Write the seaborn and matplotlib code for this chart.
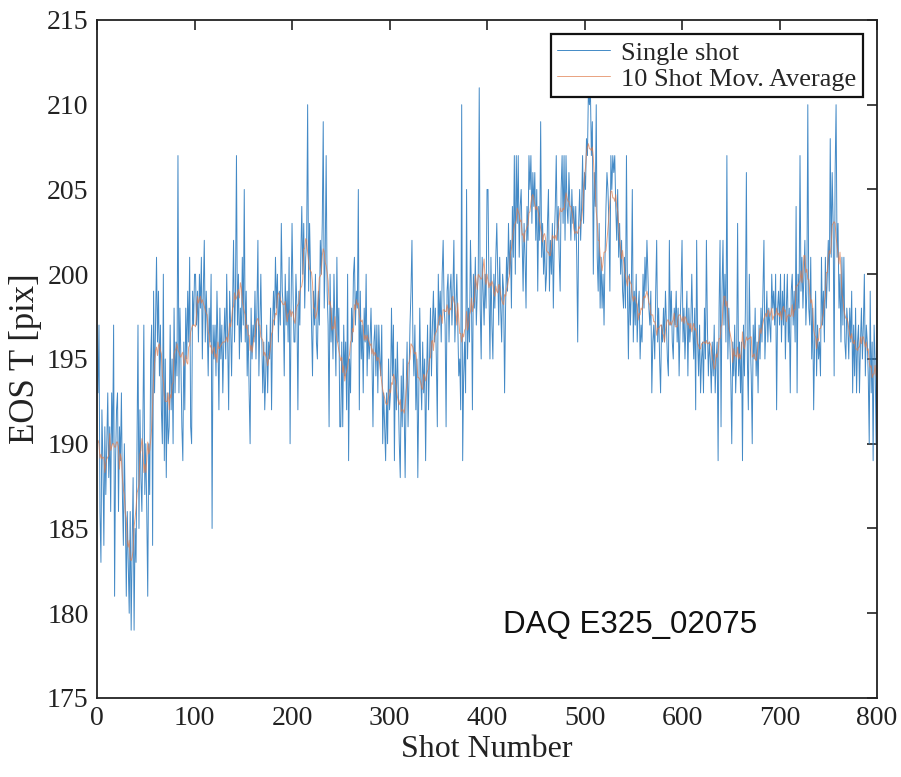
import numpy as np
import pandas as pd
import matplotlib
matplotlib.use("Agg")
import matplotlib.pyplot as plt
import seaborn as sns

# ---- data (integer pixel values per shot) ----
eos_single = [
    193, 197, 186, 183, 192, 189, 184, 191, 187, 190, 193, 188, 191, 186, 193, 190, 197, 181, 189, 192,
    193, 186, 191, 189, 193, 187, 184, 190, 186, 181, 186, 183, 180, 186, 179, 184, 188, 179, 185, 183,
    190, 197, 185, 192, 188, 186, 191, 197, 187, 190, 186, 181, 190, 187, 195, 197, 184, 199, 193, 197,
    201, 196, 199, 194, 197, 192, 190, 200, 189, 195, 188, 193, 190, 191, 197, 192, 195, 190, 198, 193,
    196, 194, 207, 193, 198, 195, 191, 189, 196, 192, 198, 195, 199, 196, 201, 191, 190, 199, 197, 200,
    200, 197, 199, 196, 200, 198, 201, 195, 199, 202, 196, 199, 197, 194, 198, 196, 200, 185, 197, 195,
    197, 194, 199, 196, 192, 198, 195, 197, 193, 196, 198, 195, 200, 196, 192, 199, 197, 194, 198, 202,
    196, 199, 207, 197, 200, 195, 198, 196, 201, 197, 205, 196, 199, 194, 197, 193, 190, 198, 195, 197,
    196, 199, 195, 198, 202, 194, 197, 200, 196, 193, 196, 192, 194, 197, 193, 196, 195, 198, 192, 197,
    199, 197, 201, 198, 200, 196, 199, 197, 203, 199, 198, 194, 200, 197, 199, 196, 201, 190, 198, 203,
    199, 196, 196, 200, 198, 192, 199, 197, 201, 204, 200, 203, 198, 201, 202, 210, 199, 203, 200, 197,
    194, 199, 197, 200, 196, 195, 199, 197, 202, 200, 203, 209, 198, 201, 207, 199, 197, 191, 200, 196,
    198, 195, 200, 197, 194, 201, 196, 198, 191, 191, 196, 191, 197, 194, 196, 192, 200, 189, 195, 193,
    198, 196, 200, 201, 197, 199, 198, 205, 192, 199, 195, 197, 193, 198, 196, 200, 194, 197, 195, 196,
    198, 195, 191, 196, 197, 194, 197, 193, 197, 195, 194, 197, 190, 193, 191, 189, 193, 190, 195, 192,
    193, 198, 194, 197, 189, 195, 192, 196, 193, 190, 188, 194, 191, 195, 192, 188, 193, 196, 191, 194,
    197, 199, 202, 196, 194, 197, 192, 195, 188, 193, 198, 194, 192, 196, 193, 195, 189, 194, 197, 192,
    195, 198, 194, 197, 199, 196, 198, 195, 191, 200, 197, 199, 196, 200, 202, 198, 197, 191, 199, 200,
    196, 199, 200, 197, 199, 202, 196, 198, 200, 197, 194, 195, 192, 210, 189, 194, 196, 193, 205, 195,
    198, 196, 202, 199, 192, 200, 198, 201, 197, 199, 200, 211, 198, 195, 201, 199, 197, 200, 198, 205,
    205, 199, 195, 201, 197, 195, 200, 198, 201, 203, 200, 197, 201, 198, 196, 200, 199, 193, 198, 201,
    199, 203, 200, 202, 198, 204, 201, 207, 200, 207, 203, 207, 201, 204, 205, 202, 199, 203, 201, 198,
    204, 202, 207, 205, 207, 203, 206, 204, 206, 202, 205, 199, 204, 202, 209, 201, 203, 200, 202, 199,
    200, 203, 205, 199, 202, 200, 203, 198, 202, 204, 207, 202, 204, 201, 199, 205, 207, 203, 207, 202,
    207, 204, 203, 206, 204, 202, 205, 203, 204, 202, 204, 201, 196, 203, 205, 202, 204, 207, 203, 206,
    205, 208, 207, 211, 210, 211, 207, 209, 200, 206, 204, 210, 201, 199, 203, 198, 201, 198, 200, 197,
    201, 204, 206, 205, 203, 199, 207, 205, 207, 206, 207, 204, 202, 205, 201, 203, 200, 202, 199, 198,
    201, 198, 207, 199, 195, 200, 197, 199, 205, 196, 199, 197, 200, 196, 198, 199, 195, 197, 196, 200,
    198, 201, 199, 202, 200, 198, 197, 199, 193, 196, 197, 195, 199, 202, 196, 198, 195, 193, 197, 196,
    198, 196, 199, 197, 195, 194, 202, 197, 199, 196, 195, 198, 197, 199, 196, 198, 194, 197, 199, 202,
    196, 198, 195, 197, 199, 194, 198, 196, 197, 200, 197, 195, 198, 192, 202, 196, 194, 197, 193, 195,
    196, 193, 198, 195, 202, 197, 194, 196, 195, 193, 196, 194, 197, 193, 195, 196, 189, 198, 202, 191,
    199, 202, 197, 200, 196, 207, 195, 198, 196, 194, 190, 196, 194, 197, 193, 195, 203, 194, 196, 193,
    196, 189, 197, 194, 198, 206, 195, 192, 200, 196, 194, 190, 197, 195, 198, 194, 196, 193, 197, 195,
    198, 196, 199, 202, 195, 197, 199, 196, 198, 197, 196, 200, 198, 199, 197, 200, 192, 198, 199, 197,
    200, 196, 199, 197, 200, 195, 198, 200, 196, 198, 193, 199, 200, 197, 199, 196, 204, 193, 200, 198,
    207, 199, 201, 198, 200, 202, 197, 199, 210, 198, 197, 201, 195, 198, 192, 196, 199, 194, 197, 195,
    196, 194, 201, 197, 199, 196, 201, 198, 200, 202, 199, 208, 201, 206, 203, 194, 206, 210, 201, 203,
    198, 200, 196, 201, 197, 201, 196, 195, 198, 197, 195, 198, 196, 199, 193, 197, 194, 198, 193, 196,
    197, 193, 196, 198, 195, 197, 200, 194, 197, 196, 194, 190, 199, 193, 196, 189, 197, 195, 190, 198,
]
shot_number = np.arange(1, len(eos_single) + 1)
avg_window = 10
x_ticks = [0, 100, 200, 300, 400, 500, 600, 700, 800]
y_ticks = [175, 180, 185, 190, 195, 200, 205, 210, 215]
series_labels = ["Single shot", "10 Shot Mov. Average"]
annotation = "DAQ E325_02075"

df = pd.DataFrame({"Shot": shot_number, "EOS": eos_single})
df["Avg"] = df["EOS"].rolling(avg_window, center=True, min_periods=1).mean()

# ---- style ----
sns.set_theme(style="white")
plt.rcParams["font.family"] = ["Liberation Serif", "DejaVu Serif"]

fig = plt.figure(figsize=(9.01, 7.77), dpi=100)
ax = fig.add_axes([0.1077, 0.1017, 0.8657, 0.8726])

sns.lineplot(data=df, x="Shot", y="EOS", ax=ax, color="#2F7DC0",
             linewidth=0.7, alpha=0.9, label=series_labels[0])
sns.lineplot(data=df, x="Shot", y="Avg", ax=ax, color="#E07A4A",
             linewidth=0.7, alpha=0.7, label=series_labels[1])

ax.set_xlim(0, 800)
ax.set_ylim(175, 215)
ax.set_xticks(x_ticks)
ax.set_yticks(y_ticks)
ax.tick_params(axis="both", which="both", direction="in", length=7, width=1.2,
               labelsize=20, top=True, right=True, colors="#222222", pad=6)
for lbl in ax.get_xticklabels() + ax.get_yticklabels():
    lbl.set_color("#222222")
for sp in ax.spines.values():
    sp.set_visible(True)
    sp.set_color("#222222")
    sp.set_linewidth(1.3)

ax.set_xlabel("Shot Number", fontsize=23, color="#222222", labelpad=3)
ax.set_ylabel("EOS T [pix]", fontsize=25, color="#222222", labelpad=4)

leg = ax.legend(loc="upper right", fontsize=19, frameon=True, fancybox=False,
                edgecolor="#111111", framealpha=1, handlelength=2.0,
                handletextpad=0.4, borderpad=0.25, labelspacing=0.1,
                borderaxespad=0.55)
leg.get_frame().set_linewidth(1.6)

ax.text(0.52, 0.108, annotation, transform=ax.transAxes, fontsize=22.5,
        family=["Liberation Sans", "DejaVu Sans"], color="#111111",
        ha="left", va="center")

fig.savefig("out.png", dpi=100, facecolor="white")
